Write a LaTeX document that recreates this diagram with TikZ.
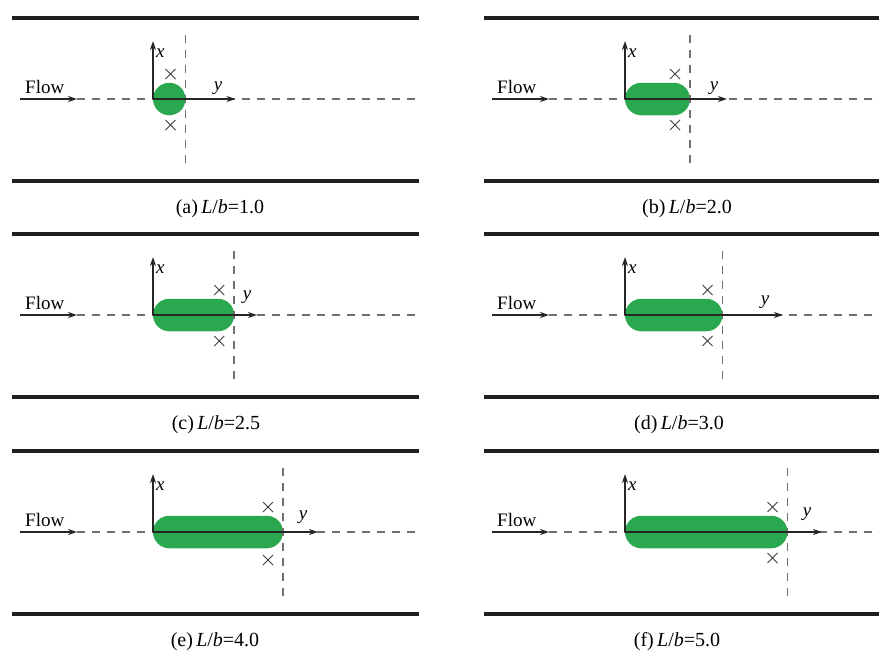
\documentclass[tikz,border=0pt]{standalone}
\usepackage{fontspec}
\setmainfont{Liberation Serif}
\usetikzlibrary{arrows.meta,shapes.misc}
\definecolor{corpsvert}{RGB}{42,168,80}
\definecolor{tiret}{RGB}{112,112,112}

\begin{document}
\begin{tikzpicture}[x=1pt,y=-1pt,
  paroi/.style={line width=4pt,black!88},
  axe/.style={line width=1.4pt,black!85,-{Stealth[length=9pt,width=6pt]}},
  ligne/.style={dash pattern=on 8pt off 7pt,line width=1.8pt,tiret},
  corps/.style={fill=corpsvert,rounded corners=16.25pt},
  sonde/.style={draw=black!75,cross out,line width=1pt,minimum size=9pt,inner sep=0pt},
  lbl/.style={font=\fontsize{19}{19}\selectfont,inner sep=0pt},
  legende/.style={font=\fontsize{20}{20}\selectfont}]

\useasboundingbox (0,0) rectangle (881,651);

% Cas (a)
\begin{scope}[shift={(12,99)}]
\draw[paroi] (0,-81.5) -- (407,-81.5);
\draw[paroi] (0,81.5) -- (407,81.5);
\coordinate (fa) at (8,0); \coordinate (ga) at (65,0); \coordinate (ea) at (404,0);
\coordinate (oa) at (141,0); \coordinate (xa) at (141,-58); \coordinate (ya) at (223.5,0);
\coordinate (ta) at (173.5,-64); \coordinate (ba) at (173.5,64);
\fill[corps] (141,-16.25) rectangle (173.5,16.25);
\draw[ligne] (ga) -- (ea);
\draw[ligne] (ta) -- (ba);
\draw[axe] (fa) -- (ga);
\draw[axe] (oa) -- (xa);
\draw[axe] (oa) -- (ya);
\node[lbl,anchor=base west] (flowa) at (13,-6) {Flow};
\node[lbl,anchor=base west] (labxa) at (144,-42) {\textit{x}};
\node[lbl,anchor=base] (labya) at (206,-9) {\textit{y}};
\node[sonde] (sa1) at (158.5,-25) {};
\node[sonde] (sa2) at (158.5,26) {};
\node[legende] (capa) at (208,110) {(a)\,\textit{L}/\textit{b}=1.0};
\end{scope}

% Cas (b)
\begin{scope}[shift={(484,99)}]
\draw[paroi] (0,-81.5) -- (395,-81.5);
\draw[paroi] (0,81.5) -- (395,81.5);
\coordinate (fb) at (8,0); \coordinate (gb) at (65,0); \coordinate (eb) at (395,0);
\coordinate (ob) at (141,0); \coordinate (xb) at (141,-58); \coordinate (yb) at (243,0);
\coordinate (tb) at (206,-64); \coordinate (bb) at (206,64);
\fill[corps] (141,-16.25) rectangle (206,16.25);
\draw[ligne] (gb) -- (eb);
\draw[ligne] (tb) -- (bb);
\draw[axe] (fb) -- (gb);
\draw[axe] (ob) -- (xb);
\draw[axe] (ob) -- (yb);
\node[lbl,anchor=base west] (flowb) at (13,-6) {Flow};
\node[lbl,anchor=base west] (labxb) at (144,-42) {\textit{x}};
\node[lbl,anchor=base] (labyb) at (230,-9) {\textit{y}};
\node[sonde] (sb1) at (191,-25) {};
\node[sonde] (sb2) at (191,26) {};
\node[legende] (capb) at (203,110) {(b)\,\textit{L}/\textit{b}=2.0};
\end{scope}

% Cas (c)
\begin{scope}[shift={(12,315)}]
\draw[paroi] (0,-81.5) -- (407,-81.5);
\draw[paroi] (0,81.5) -- (407,81.5);
\coordinate (fc) at (8,0); \coordinate (gc) at (65,0); \coordinate (ec) at (404,0);
\coordinate (oc) at (141,0); \coordinate (xc) at (141,-58); \coordinate (yc) at (245,0);
\coordinate (tc) at (222.25,-64); \coordinate (bc) at (222.25,64);
\fill[corps] (141,-16.25) rectangle (222.25,16.25);
\draw[ligne] (gc) -- (ec);
\draw[ligne] (tc) -- (bc);
\draw[axe] (fc) -- (gc);
\draw[axe] (oc) -- (xc);
\draw[axe] (oc) -- (yc);
\node[lbl,anchor=base west] (flowc) at (13,-6) {Flow};
\node[lbl,anchor=base west] (labxc) at (144,-42) {\textit{x}};
\node[lbl,anchor=base] (labyc) at (235,-16) {\textit{y}};
\node[sonde] (sc1) at (207.25,-25) {};
\node[sonde] (sc2) at (207.25,26) {};
\node[legende] (capc) at (204,110) {(c)\,\textit{L}/\textit{b}=2.5};
\end{scope}

% Cas (d)
\begin{scope}[shift={(484,315)}]
\draw[paroi] (0,-81.5) -- (395,-81.5);
\draw[paroi] (0,81.5) -- (395,81.5);
\coordinate (fd) at (8,0); \coordinate (gd) at (65,0); \coordinate (ed) at (395,0);
\coordinate (od) at (141,0); \coordinate (xd) at (141,-58); \coordinate (yd) at (299,0);
\coordinate (td) at (238.5,-64); \coordinate (bd) at (238.5,64);
\fill[corps] (141,-16.25) rectangle (238.5,16.25);
\draw[ligne] (gd) -- (ed);
\draw[ligne] (td) -- (bd);
\draw[axe] (fd) -- (gd);
\draw[axe] (od) -- (xd);
\draw[axe] (od) -- (yd);
\node[lbl,anchor=base west] (flowd) at (13,-6) {Flow};
\node[lbl,anchor=base west] (labxd) at (144,-42) {\textit{x}};
\node[lbl,anchor=base] (labyd) at (281,-11) {\textit{y}};
\node[sonde] (sd1) at (223.5,-25) {};
\node[sonde] (sd2) at (223.5,26) {};
\node[legende] (capd) at (195,110) {(d)\,\textit{L}/\textit{b}=3.0};
\end{scope}

% Cas (e)
\begin{scope}[shift={(12,532)}]
\draw[paroi] (0,-81.5) -- (407,-81.5);
\draw[paroi] (0,81.5) -- (407,81.5);
\coordinate (fe) at (8,0); \coordinate (ge) at (65,0); \coordinate (ee) at (404,0);
\coordinate (oe) at (141,0); \coordinate (xe) at (141,-58); \coordinate (ye) at (306,0);
\coordinate (te) at (271,-64); \coordinate (be) at (271,64);
\fill[corps] (141,-16.25) rectangle (271,16.25);
\draw[ligne] (ge) -- (ee);
\draw[ligne] (te) -- (be);
\draw[axe] (fe) -- (ge);
\draw[axe] (oe) -- (xe);
\draw[axe] (oe) -- (ye);
\node[lbl,anchor=base west] (flowe) at (13,-6) {Flow};
\node[lbl,anchor=base west] (labxe) at (144,-42) {\textit{x}};
\node[lbl,anchor=base] (labye) at (291,-13) {\textit{y}};
\node[sonde] (se1) at (256,-25) {};
\node[sonde] (se2) at (256,28) {};
\node[legende] (cape) at (203,110) {(e)\,\textit{L}/\textit{b}=4.0};
\end{scope}

% Cas (f)
\begin{scope}[shift={(484,532)}]
\draw[paroi] (0,-81.5) -- (395,-81.5);
\draw[paroi] (0,81.5) -- (395,81.5);
\coordinate (ff) at (8,0); \coordinate (gf) at (65,0); \coordinate (ef) at (395,0);
\coordinate (of) at (141,0); \coordinate (xf) at (141,-58); \coordinate (yf) at (338,0);
\coordinate (tf) at (303.5,-64); \coordinate (bf) at (303.5,64);
\fill[corps] (141,-16.25) rectangle (303.5,16.25);
\draw[ligne] (gf) -- (ef);
\draw[ligne] (tf) -- (bf);
\draw[axe] (ff) -- (gf);
\draw[axe] (of) -- (xf);
\draw[axe] (of) -- (yf);
\node[lbl,anchor=base west] (flowf) at (13,-6) {Flow};
\node[lbl,anchor=base west] (labxf) at (144,-42) {\textit{x}};
\node[lbl,anchor=base] (labyf) at (323,-16) {\textit{y}};
\node[sonde] (sf1) at (288.5,-25) {};
\node[sonde] (sf2) at (288.5,26) {};
\node[legende] (capf) at (193,110) {(f)\,\textit{L}/\textit{b}=5.0};
\end{scope}

\end{tikzpicture}
\end{document}
